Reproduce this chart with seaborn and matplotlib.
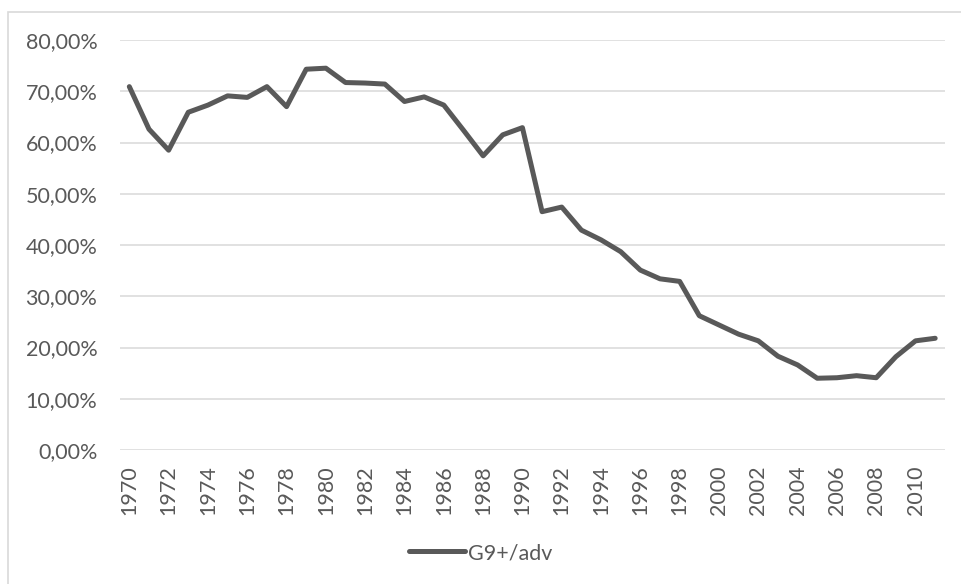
import matplotlib
matplotlib.use("Agg")
import matplotlib.pyplot as plt
import matplotlib.ticker as mticker
from matplotlib.patches import Rectangle
import seaborn as sns
import pandas as pd

# data
years = list(range(1970, 2012))
share = [
    70.9, 62.6, 58.5, 65.9, 67.3, 69.1, 68.8, 70.9, 67.0, 74.3,
    74.5, 71.7, 71.6, 71.4, 68.0, 68.9, 67.3, 62.4, 57.4, 61.5,
    62.9, 46.5, 47.4, 42.9, 41.0, 38.7, 35.1, 33.4, 32.9, 26.2,
    24.4, 22.6, 21.3, 18.3, 16.6, 14.0, 14.1, 14.5, 14.1, 18.2,
    21.3, 21.8,
]
series_name = "G9+/adv"
tick_years = list(range(1970, 2011, 2))

df = pd.DataFrame({"year": years, "value": [v / 100 for v in share]})
df["series"] = series_name

sns.set_style("white")
plt.rcParams["font.family"] = ["Lato", "DejaVu Sans"]

GREY_TXT = "#595959"
GRID = "#D9D9D9"
FS = 15.5

fig = plt.figure(figsize=(9.61, 5.84), dpi=100)
ax = fig.add_axes([119.5 / 961, 1 - 450 / 584, (945 - 119.5) / 961, 410 / 584])

# chart area border (Excel style)
fig.patches.append(Rectangle((8 / 961, -0.1), 1.2, 1 - 11.5 / 584 + 0.1,
                             transform=fig.transFigure, fill=False,
                             edgecolor=GRID, linewidth=1.2))

sns.lineplot(data=df, x="year", y="value", hue="series", palette=[GREY_TXT],
             linewidth=3.6, ax=ax, legend=False)

ax.set_xlim(1969.5, 2011.5)
ax.set_ylim(0, 0.8)
ax.set_yticks([i / 10 for i in range(9)])
ax.yaxis.set_major_formatter(mticker.FuncFormatter(
    lambda v, _: f"{v * 100:.2f}%".replace(".", ",")))
ax.set_xticks(tick_years)
ax.set_xticklabels([str(y) for y in tick_years], rotation=90)

ax.grid(axis="y", color=GRID, linewidth=1.1)
ax.grid(axis="x", visible=False)
for sp in ax.spines.values():
    sp.set_visible(False)
ax.tick_params(axis="both", length=0, colors=GREY_TXT, labelsize=FS)
ax.tick_params(axis="x", pad=11)
ax.tick_params(axis="y", pad=16)
ax.set_xlabel("")
ax.set_ylabel("")

handle = plt.Line2D([], [], color=GREY_TXT, linewidth=3.6, solid_capstyle="round")
leg = fig.legend([handle], [series_name], loc="center",
                 bbox_to_anchor=(0.5, 1 - 553 / 584), frameon=False,
                 fontsize=FS, handlelength=2.6, handletextpad=0.15)
for t in leg.get_texts():
    t.set_color(GREY_TXT)

fig.savefig("out.png", dpi=100)
